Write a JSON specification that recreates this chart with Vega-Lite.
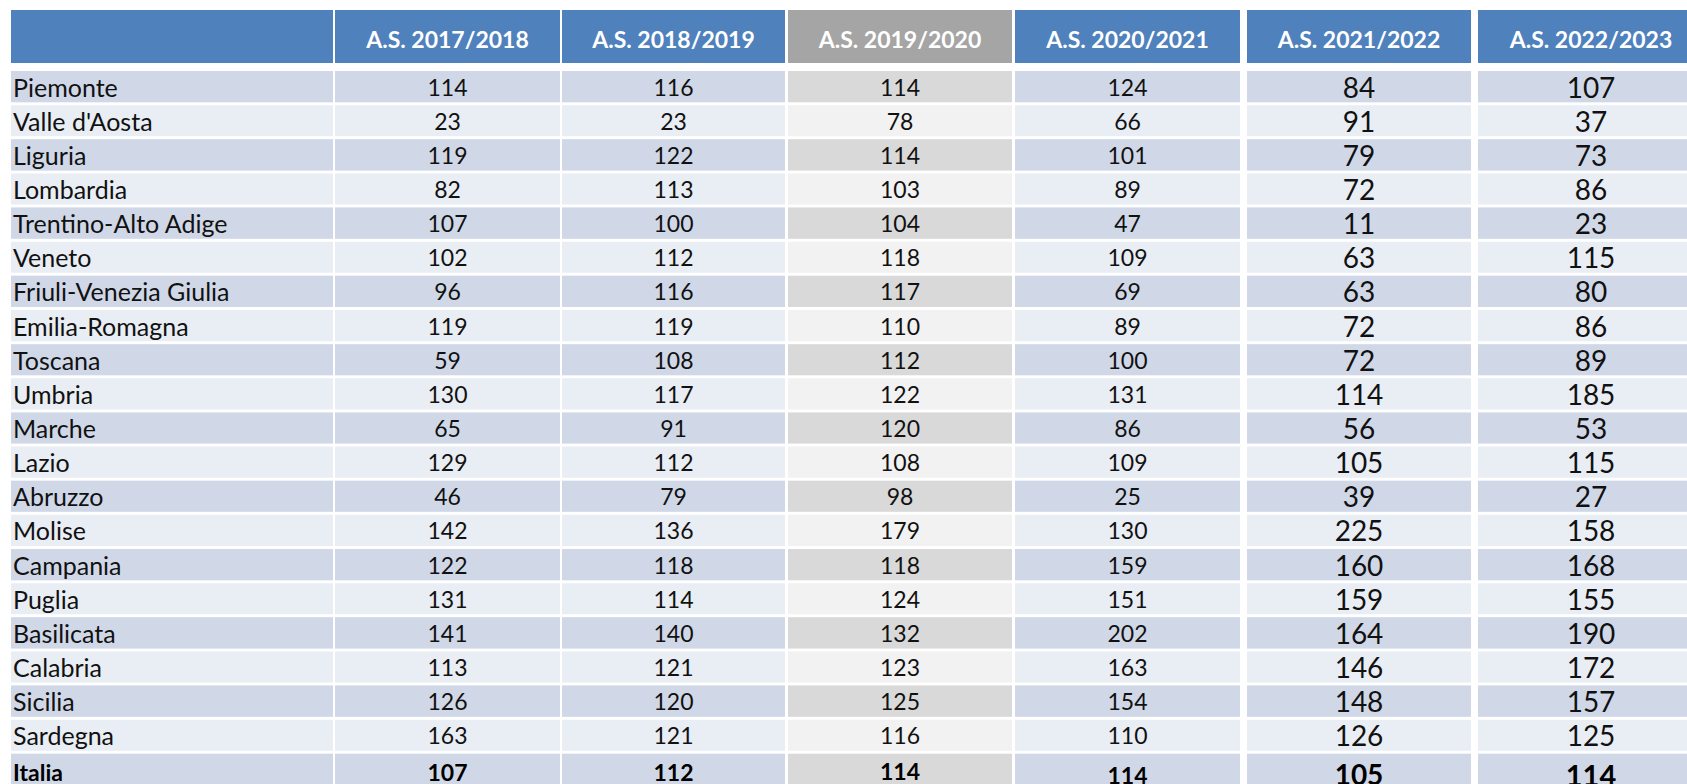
{
  "$schema": "https://vega.github.io/schema/vega-lite/v6.json",
  "padding": {"left": 11, "top": 10, "right": 0, "bottom": 0},
  "autosize": {"type": "pad"},
  "background": "white",
  "config": {"view": {"stroke": null}},
  "data": {"values": [
    {"regione": "Piemonte", "anno": "A.S. 2017/2018", "valore": 114},
    {"regione": "Valle d'Aosta", "anno": "A.S. 2017/2018", "valore": 23},
    {"regione": "Liguria", "anno": "A.S. 2017/2018", "valore": 119},
    {"regione": "Lombardia", "anno": "A.S. 2017/2018", "valore": 82},
    {"regione": "Trentino-Alto Adige", "anno": "A.S. 2017/2018", "valore": 107},
    {"regione": "Veneto", "anno": "A.S. 2017/2018", "valore": 102},
    {"regione": "Friuli-Venezia Giulia", "anno": "A.S. 2017/2018", "valore": 96},
    {"regione": "Emilia-Romagna", "anno": "A.S. 2017/2018", "valore": 119},
    {"regione": "Toscana", "anno": "A.S. 2017/2018", "valore": 59},
    {"regione": "Umbria", "anno": "A.S. 2017/2018", "valore": 130},
    {"regione": "Marche", "anno": "A.S. 2017/2018", "valore": 65},
    {"regione": "Lazio", "anno": "A.S. 2017/2018", "valore": 129},
    {"regione": "Abruzzo", "anno": "A.S. 2017/2018", "valore": 46},
    {"regione": "Molise", "anno": "A.S. 2017/2018", "valore": 142},
    {"regione": "Campania", "anno": "A.S. 2017/2018", "valore": 122},
    {"regione": "Puglia", "anno": "A.S. 2017/2018", "valore": 131},
    {"regione": "Basilicata", "anno": "A.S. 2017/2018", "valore": 141},
    {"regione": "Calabria", "anno": "A.S. 2017/2018", "valore": 113},
    {"regione": "Sicilia", "anno": "A.S. 2017/2018", "valore": 126},
    {"regione": "Sardegna", "anno": "A.S. 2017/2018", "valore": 163},
    {"regione": "Italia", "anno": "A.S. 2017/2018", "valore": 107},

    {"regione": "Piemonte", "anno": "A.S. 2018/2019", "valore": 116},
    {"regione": "Valle d'Aosta", "anno": "A.S. 2018/2019", "valore": 23},
    {"regione": "Liguria", "anno": "A.S. 2018/2019", "valore": 122},
    {"regione": "Lombardia", "anno": "A.S. 2018/2019", "valore": 113},
    {"regione": "Trentino-Alto Adige", "anno": "A.S. 2018/2019", "valore": 100},
    {"regione": "Veneto", "anno": "A.S. 2018/2019", "valore": 112},
    {"regione": "Friuli-Venezia Giulia", "anno": "A.S. 2018/2019", "valore": 116},
    {"regione": "Emilia-Romagna", "anno": "A.S. 2018/2019", "valore": 119},
    {"regione": "Toscana", "anno": "A.S. 2018/2019", "valore": 108},
    {"regione": "Umbria", "anno": "A.S. 2018/2019", "valore": 117},
    {"regione": "Marche", "anno": "A.S. 2018/2019", "valore": 91},
    {"regione": "Lazio", "anno": "A.S. 2018/2019", "valore": 112},
    {"regione": "Abruzzo", "anno": "A.S. 2018/2019", "valore": 79},
    {"regione": "Molise", "anno": "A.S. 2018/2019", "valore": 136},
    {"regione": "Campania", "anno": "A.S. 2018/2019", "valore": 118},
    {"regione": "Puglia", "anno": "A.S. 2018/2019", "valore": 114},
    {"regione": "Basilicata", "anno": "A.S. 2018/2019", "valore": 140},
    {"regione": "Calabria", "anno": "A.S. 2018/2019", "valore": 121},
    {"regione": "Sicilia", "anno": "A.S. 2018/2019", "valore": 120},
    {"regione": "Sardegna", "anno": "A.S. 2018/2019", "valore": 121},
    {"regione": "Italia", "anno": "A.S. 2018/2019", "valore": 112},

    {"regione": "Piemonte", "anno": "A.S. 2019/2020", "valore": 114},
    {"regione": "Valle d'Aosta", "anno": "A.S. 2019/2020", "valore": 78},
    {"regione": "Liguria", "anno": "A.S. 2019/2020", "valore": 114},
    {"regione": "Lombardia", "anno": "A.S. 2019/2020", "valore": 103},
    {"regione": "Trentino-Alto Adige", "anno": "A.S. 2019/2020", "valore": 104},
    {"regione": "Veneto", "anno": "A.S. 2019/2020", "valore": 118},
    {"regione": "Friuli-Venezia Giulia", "anno": "A.S. 2019/2020", "valore": 117},
    {"regione": "Emilia-Romagna", "anno": "A.S. 2019/2020", "valore": 110},
    {"regione": "Toscana", "anno": "A.S. 2019/2020", "valore": 112},
    {"regione": "Umbria", "anno": "A.S. 2019/2020", "valore": 122},
    {"regione": "Marche", "anno": "A.S. 2019/2020", "valore": 120},
    {"regione": "Lazio", "anno": "A.S. 2019/2020", "valore": 108},
    {"regione": "Abruzzo", "anno": "A.S. 2019/2020", "valore": 98},
    {"regione": "Molise", "anno": "A.S. 2019/2020", "valore": 179},
    {"regione": "Campania", "anno": "A.S. 2019/2020", "valore": 118},
    {"regione": "Puglia", "anno": "A.S. 2019/2020", "valore": 124},
    {"regione": "Basilicata", "anno": "A.S. 2019/2020", "valore": 132},
    {"regione": "Calabria", "anno": "A.S. 2019/2020", "valore": 123},
    {"regione": "Sicilia", "anno": "A.S. 2019/2020", "valore": 125},
    {"regione": "Sardegna", "anno": "A.S. 2019/2020", "valore": 116},
    {"regione": "Italia", "anno": "A.S. 2019/2020", "valore": 114},

    {"regione": "Piemonte", "anno": "A.S. 2020/2021", "valore": 124},
    {"regione": "Valle d'Aosta", "anno": "A.S. 2020/2021", "valore": 66},
    {"regione": "Liguria", "anno": "A.S. 2020/2021", "valore": 101},
    {"regione": "Lombardia", "anno": "A.S. 2020/2021", "valore": 89},
    {"regione": "Trentino-Alto Adige", "anno": "A.S. 2020/2021", "valore": 47},
    {"regione": "Veneto", "anno": "A.S. 2020/2021", "valore": 109},
    {"regione": "Friuli-Venezia Giulia", "anno": "A.S. 2020/2021", "valore": 69},
    {"regione": "Emilia-Romagna", "anno": "A.S. 2020/2021", "valore": 89},
    {"regione": "Toscana", "anno": "A.S. 2020/2021", "valore": 100},
    {"regione": "Umbria", "anno": "A.S. 2020/2021", "valore": 131},
    {"regione": "Marche", "anno": "A.S. 2020/2021", "valore": 86},
    {"regione": "Lazio", "anno": "A.S. 2020/2021", "valore": 109},
    {"regione": "Abruzzo", "anno": "A.S. 2020/2021", "valore": 25},
    {"regione": "Molise", "anno": "A.S. 2020/2021", "valore": 130},
    {"regione": "Campania", "anno": "A.S. 2020/2021", "valore": 159},
    {"regione": "Puglia", "anno": "A.S. 2020/2021", "valore": 151},
    {"regione": "Basilicata", "anno": "A.S. 2020/2021", "valore": 202},
    {"regione": "Calabria", "anno": "A.S. 2020/2021", "valore": 163},
    {"regione": "Sicilia", "anno": "A.S. 2020/2021", "valore": 154},
    {"regione": "Sardegna", "anno": "A.S. 2020/2021", "valore": 110},
    {"regione": "Italia", "anno": "A.S. 2020/2021", "valore": 114},

    {"regione": "Piemonte", "anno": "A.S. 2021/2022", "valore": 84},
    {"regione": "Valle d'Aosta", "anno": "A.S. 2021/2022", "valore": 91},
    {"regione": "Liguria", "anno": "A.S. 2021/2022", "valore": 79},
    {"regione": "Lombardia", "anno": "A.S. 2021/2022", "valore": 72},
    {"regione": "Trentino-Alto Adige", "anno": "A.S. 2021/2022", "valore": 11},
    {"regione": "Veneto", "anno": "A.S. 2021/2022", "valore": 63},
    {"regione": "Friuli-Venezia Giulia", "anno": "A.S. 2021/2022", "valore": 63},
    {"regione": "Emilia-Romagna", "anno": "A.S. 2021/2022", "valore": 72},
    {"regione": "Toscana", "anno": "A.S. 2021/2022", "valore": 72},
    {"regione": "Umbria", "anno": "A.S. 2021/2022", "valore": 114},
    {"regione": "Marche", "anno": "A.S. 2021/2022", "valore": 56},
    {"regione": "Lazio", "anno": "A.S. 2021/2022", "valore": 105},
    {"regione": "Abruzzo", "anno": "A.S. 2021/2022", "valore": 39},
    {"regione": "Molise", "anno": "A.S. 2021/2022", "valore": 225},
    {"regione": "Campania", "anno": "A.S. 2021/2022", "valore": 160},
    {"regione": "Puglia", "anno": "A.S. 2021/2022", "valore": 159},
    {"regione": "Basilicata", "anno": "A.S. 2021/2022", "valore": 164},
    {"regione": "Calabria", "anno": "A.S. 2021/2022", "valore": 146},
    {"regione": "Sicilia", "anno": "A.S. 2021/2022", "valore": 148},
    {"regione": "Sardegna", "anno": "A.S. 2021/2022", "valore": 126},
    {"regione": "Italia", "anno": "A.S. 2021/2022", "valore": 105},

    {"regione": "Piemonte", "anno": "A.S. 2022/2023", "valore": 107},
    {"regione": "Valle d'Aosta", "anno": "A.S. 2022/2023", "valore": 37},
    {"regione": "Liguria", "anno": "A.S. 2022/2023", "valore": 73},
    {"regione": "Lombardia", "anno": "A.S. 2022/2023", "valore": 86},
    {"regione": "Trentino-Alto Adige", "anno": "A.S. 2022/2023", "valore": 23},
    {"regione": "Veneto", "anno": "A.S. 2022/2023", "valore": 115},
    {"regione": "Friuli-Venezia Giulia", "anno": "A.S. 2022/2023", "valore": 80},
    {"regione": "Emilia-Romagna", "anno": "A.S. 2022/2023", "valore": 86},
    {"regione": "Toscana", "anno": "A.S. 2022/2023", "valore": 89},
    {"regione": "Umbria", "anno": "A.S. 2022/2023", "valore": 185},
    {"regione": "Marche", "anno": "A.S. 2022/2023", "valore": 53},
    {"regione": "Lazio", "anno": "A.S. 2022/2023", "valore": 115},
    {"regione": "Abruzzo", "anno": "A.S. 2022/2023", "valore": 27},
    {"regione": "Molise", "anno": "A.S. 2022/2023", "valore": 158},
    {"regione": "Campania", "anno": "A.S. 2022/2023", "valore": 168},
    {"regione": "Puglia", "anno": "A.S. 2022/2023", "valore": 155},
    {"regione": "Basilicata", "anno": "A.S. 2022/2023", "valore": 190},
    {"regione": "Calabria", "anno": "A.S. 2022/2023", "valore": 172},
    {"regione": "Sicilia", "anno": "A.S. 2022/2023", "valore": 157},
    {"regione": "Sardegna", "anno": "A.S. 2022/2023", "valore": 125},
    {"regione": "Italia", "anno": "A.S. 2022/2023", "valore": 114}
  ]},
  "spacing": 7,
  "hconcat": [
    {
      "spacing": 3,
      "hconcat": [
        {
          "spacing": 2,
          "hconcat": [
            {
              "spacing": 8,
              "vconcat": [
                {
                  "width": 322, "height": 53,
                  "transform": [{"filter": {"and": [{"field": "anno", "equal": "A.S. 2017/2018"}, {"field": "regione", "equal": "Italia"}]}}],
                  "mark": {"type": "rect", "fill": "#4F81BD"},
                  "encoding": {
                    "x": {"datum": 0, "type": "quantitative", "scale": {"domain": [0, 1], "nice": false}, "axis": null},
                    "x2": {"datum": 1},
                    "y": {"datum": 0, "type": "quantitative", "scale": {"domain": [0, 1], "nice": false}, "axis": null},
                    "y2": {"datum": 1}
                  }
                },
                {
                  "width": 322, "height": 714,
                  "transform": [{"filter": {"field": "anno", "equal": "A.S. 2017/2018"}}],
                  "encoding": {
                    "y": {"field": "regione", "type": "nominal", "axis": null, "scale": {"domain": ["Piemonte", "Valle d'Aosta", "Liguria", "Lombardia", "Trentino-Alto Adige", "Veneto", "Friuli-Venezia Giulia", "Emilia-Romagna", "Toscana", "Umbria", "Marche", "Lazio", "Abruzzo", "Molise", "Campania", "Puglia", "Basilicata", "Calabria", "Sicilia", "Sardegna", "Italia"], "paddingInner": 0.088, "paddingOuter": 0}}
                  },
                  "layer": [
                    {"mark": {"type": "rect", "fill": "#E9EDF4"}, "encoding": {"x": {"datum": 0, "type": "quantitative", "scale": {"domain": [0, 1], "nice": false}, "axis": null}, "x2": {"datum": 1}}},
                    {"transform": [{"filter": {"field": "regione", "oneOf": ["Piemonte", "Liguria", "Trentino-Alto Adige", "Friuli-Venezia Giulia", "Toscana", "Marche", "Abruzzo", "Campania", "Basilicata", "Sicilia", "Italia"]}}], "mark": {"type": "rect", "fill": "#D0D8E8"}, "encoding": {"x": {"datum": 0, "type": "quantitative"}, "x2": {"datum": 1}}},
                    {"transform": [{"filter": {"not": {"field": "regione", "equal": "Italia"}}}], "mark": {"type": "text", "font": "Lato", "fontSize": 25, "color": "#111111", "align": "left", "baseline": "middle", "dx": 2, "dy": 2}, "encoding": {"x": {"datum": 0, "type": "quantitative"}, "text": {"field": "regione"}}},
                    {"transform": [{"filter": {"field": "regione", "equal": "Italia"}}], "mark": {"type": "text", "font": "Lato", "fontSize": 23, "fontWeight": "bold", "color": "#000000", "align": "left", "baseline": "middle", "dx": 2, "dy": 5}, "encoding": {"x": {"datum": 0, "type": "quantitative"}, "text": {"field": "regione"}}}
                  ]
                }
              ]
            },
            {
              "spacing": 8,
              "vconcat": [
                {
                  "width": 225, "height": 53,
                  "transform": [{"filter": {"and": [{"field": "anno", "equal": "A.S. 2017/2018"}, {"field": "regione", "equal": "Italia"}]}}],
                  "layer": [
                    {"mark": {"type": "rect", "fill": "#4F81BD"}, "encoding": {"x": {"datum": 0, "type": "quantitative", "scale": {"domain": [0, 1], "nice": false}, "axis": null}, "x2": {"datum": 1}, "y": {"datum": 0, "type": "quantitative", "scale": {"domain": [0, 1], "nice": false}, "axis": null}, "y2": {"datum": 1}}},
                    {"mark": {"type": "text", "font": "Lato", "fontSize": 23, "fontWeight": "bold", "color": "white", "baseline": "middle", "dy": 4}, "encoding": {"x": {"datum": 0.5, "type": "quantitative"}, "y": {"datum": 0.5, "type": "quantitative"}, "text": {"field": "anno"}}}
                  ]
                },
                {
                  "width": 225, "height": 714,
                  "transform": [{"filter": {"field": "anno", "equal": "A.S. 2017/2018"}}],
                  "encoding": {
                    "y": {"field": "regione", "type": "nominal", "axis": null, "scale": {"domain": ["Piemonte", "Valle d'Aosta", "Liguria", "Lombardia", "Trentino-Alto Adige", "Veneto", "Friuli-Venezia Giulia", "Emilia-Romagna", "Toscana", "Umbria", "Marche", "Lazio", "Abruzzo", "Molise", "Campania", "Puglia", "Basilicata", "Calabria", "Sicilia", "Sardegna", "Italia"], "paddingInner": 0.088, "paddingOuter": 0}}
                  },
                  "layer": [
                    {"mark": {"type": "rect", "fill": "#E9EDF4"}, "encoding": {"x": {"datum": 0, "type": "quantitative", "scale": {"domain": [0, 1], "nice": false}, "axis": null}, "x2": {"datum": 1}}},
                    {"transform": [{"filter": {"field": "regione", "oneOf": ["Piemonte", "Liguria", "Trentino-Alto Adige", "Friuli-Venezia Giulia", "Toscana", "Marche", "Abruzzo", "Campania", "Basilicata", "Sicilia", "Italia"]}}], "mark": {"type": "rect", "fill": "#D0D8E8"}, "encoding": {"x": {"datum": 0, "type": "quantitative"}, "x2": {"datum": 1}}},
                    {"transform": [{"filter": {"not": {"field": "regione", "equal": "Italia"}}}], "mark": {"type": "text", "font": "Lato", "fontSize": 23, "color": "#111111", "baseline": "middle", "dy": 2}, "encoding": {"x": {"datum": 0.5, "type": "quantitative"}, "text": {"field": "valore"}}},
                    {"transform": [{"filter": {"field": "regione", "equal": "Italia"}}], "mark": {"type": "text", "font": "Lato", "fontSize": 23, "fontWeight": "bold", "color": "#000000", "baseline": "middle", "dy": 5}, "encoding": {"x": {"datum": 0.5, "type": "quantitative"}, "text": {"field": "valore"}}}
                  ]
                }
              ]
            },
            {
              "spacing": 8,
              "vconcat": [
                {
                  "width": 223, "height": 53,
                  "transform": [{"filter": {"and": [{"field": "anno", "equal": "A.S. 2018/2019"}, {"field": "regione", "equal": "Italia"}]}}],
                  "layer": [
                    {"mark": {"type": "rect", "fill": "#4F81BD"}, "encoding": {"x": {"datum": 0, "type": "quantitative", "scale": {"domain": [0, 1], "nice": false}, "axis": null}, "x2": {"datum": 1}, "y": {"datum": 0, "type": "quantitative", "scale": {"domain": [0, 1], "nice": false}, "axis": null}, "y2": {"datum": 1}}},
                    {"mark": {"type": "text", "font": "Lato", "fontSize": 23, "fontWeight": "bold", "color": "white", "baseline": "middle", "dy": 4}, "encoding": {"x": {"datum": 0.5, "type": "quantitative"}, "y": {"datum": 0.5, "type": "quantitative"}, "text": {"field": "anno"}}}
                  ]
                },
                {
                  "width": 223, "height": 714,
                  "transform": [{"filter": {"field": "anno", "equal": "A.S. 2018/2019"}}],
                  "encoding": {
                    "y": {"field": "regione", "type": "nominal", "axis": null, "scale": {"domain": ["Piemonte", "Valle d'Aosta", "Liguria", "Lombardia", "Trentino-Alto Adige", "Veneto", "Friuli-Venezia Giulia", "Emilia-Romagna", "Toscana", "Umbria", "Marche", "Lazio", "Abruzzo", "Molise", "Campania", "Puglia", "Basilicata", "Calabria", "Sicilia", "Sardegna", "Italia"], "paddingInner": 0.088, "paddingOuter": 0}}
                  },
                  "layer": [
                    {"mark": {"type": "rect", "fill": "#E9EDF4"}, "encoding": {"x": {"datum": 0, "type": "quantitative", "scale": {"domain": [0, 1], "nice": false}, "axis": null}, "x2": {"datum": 1}}},
                    {"transform": [{"filter": {"field": "regione", "oneOf": ["Piemonte", "Liguria", "Trentino-Alto Adige", "Friuli-Venezia Giulia", "Toscana", "Marche", "Abruzzo", "Campania", "Basilicata", "Sicilia", "Italia"]}}], "mark": {"type": "rect", "fill": "#D0D8E8"}, "encoding": {"x": {"datum": 0, "type": "quantitative"}, "x2": {"datum": 1}}},
                    {"transform": [{"filter": {"not": {"field": "regione", "equal": "Italia"}}}], "mark": {"type": "text", "font": "Lato", "fontSize": 23, "color": "#111111", "baseline": "middle", "dy": 2}, "encoding": {"x": {"datum": 0.5, "type": "quantitative"}, "text": {"field": "valore"}}},
                    {"transform": [{"filter": {"field": "regione", "equal": "Italia"}}], "mark": {"type": "text", "font": "Lato", "fontSize": 23, "fontWeight": "bold", "color": "#000000", "baseline": "middle", "dy": 5}, "encoding": {"x": {"datum": 0.5, "type": "quantitative"}, "text": {"field": "valore"}}}
                  ]
                }
              ]
            }
          ]
        },
        {
          "spacing": 8,
          "vconcat": [
            {
              "width": 224, "height": 53,
              "transform": [{"filter": {"and": [{"field": "anno", "equal": "A.S. 2019/2020"}, {"field": "regione", "equal": "Italia"}]}}],
              "layer": [
                {"mark": {"type": "rect", "fill": "#A5A5A5"}, "encoding": {"x": {"datum": 0, "type": "quantitative", "scale": {"domain": [0, 1], "nice": false}, "axis": null}, "x2": {"datum": 1}, "y": {"datum": 0, "type": "quantitative", "scale": {"domain": [0, 1], "nice": false}, "axis": null}, "y2": {"datum": 1}}},
                {"mark": {"type": "text", "font": "Lato", "fontSize": 23, "fontWeight": "bold", "color": "white", "baseline": "middle", "dy": 4}, "encoding": {"x": {"datum": 0.5, "type": "quantitative"}, "y": {"datum": 0.5, "type": "quantitative"}, "text": {"field": "anno"}}}
              ]
            },
            {
              "width": 224, "height": 714,
              "transform": [{"filter": {"field": "anno", "equal": "A.S. 2019/2020"}}],
              "encoding": {
                "y": {"field": "regione", "type": "nominal", "axis": null, "scale": {"domain": ["Piemonte", "Valle d'Aosta", "Liguria", "Lombardia", "Trentino-Alto Adige", "Veneto", "Friuli-Venezia Giulia", "Emilia-Romagna", "Toscana", "Umbria", "Marche", "Lazio", "Abruzzo", "Molise", "Campania", "Puglia", "Basilicata", "Calabria", "Sicilia", "Sardegna", "Italia"], "paddingInner": 0.088, "paddingOuter": 0}}
              },
              "layer": [
                {"mark": {"type": "rect", "fill": "#F2F2F2"}, "encoding": {"x": {"datum": 0, "type": "quantitative", "scale": {"domain": [0, 1], "nice": false}, "axis": null}, "x2": {"datum": 1}}},
                {"transform": [{"filter": {"field": "regione", "oneOf": ["Piemonte", "Liguria", "Trentino-Alto Adige", "Friuli-Venezia Giulia", "Toscana", "Marche", "Abruzzo", "Campania", "Basilicata", "Sicilia", "Italia"]}}], "mark": {"type": "rect", "fill": "#D9D9D9"}, "encoding": {"x": {"datum": 0, "type": "quantitative"}, "x2": {"datum": 1}}},
                {"transform": [{"filter": {"not": {"field": "regione", "equal": "Italia"}}}], "mark": {"type": "text", "font": "Lato", "fontSize": 23, "color": "#111111", "baseline": "middle", "dy": 2}, "encoding": {"x": {"datum": 0.5, "type": "quantitative"}, "text": {"field": "valore"}}},
                {"transform": [{"filter": {"field": "regione", "equal": "Italia"}}], "mark": {"type": "text", "font": "Lato", "fontSize": 23, "fontWeight": "bold", "color": "#000000", "baseline": "middle", "dy": 4}, "encoding": {"x": {"datum": 0.5, "type": "quantitative"}, "text": {"field": "valore"}}}
              ]
            }
          ]
        },
        {
          "spacing": 8,
          "vconcat": [
            {
              "width": 225, "height": 53,
              "transform": [{"filter": {"and": [{"field": "anno", "equal": "A.S. 2020/2021"}, {"field": "regione", "equal": "Italia"}]}}],
              "layer": [
                {"mark": {"type": "rect", "fill": "#4F81BD"}, "encoding": {"x": {"datum": 0, "type": "quantitative", "scale": {"domain": [0, 1], "nice": false}, "axis": null}, "x2": {"datum": 1}, "y": {"datum": 0, "type": "quantitative", "scale": {"domain": [0, 1], "nice": false}, "axis": null}, "y2": {"datum": 1}}},
                {"mark": {"type": "text", "font": "Lato", "fontSize": 23, "fontWeight": "bold", "color": "white", "baseline": "middle", "dy": 4}, "encoding": {"x": {"datum": 0.5, "type": "quantitative"}, "y": {"datum": 0.5, "type": "quantitative"}, "text": {"field": "anno"}}}
              ]
            },
            {
              "width": 225, "height": 714,
              "transform": [{"filter": {"field": "anno", "equal": "A.S. 2020/2021"}}],
              "encoding": {
                "y": {"field": "regione", "type": "nominal", "axis": null, "scale": {"domain": ["Piemonte", "Valle d'Aosta", "Liguria", "Lombardia", "Trentino-Alto Adige", "Veneto", "Friuli-Venezia Giulia", "Emilia-Romagna", "Toscana", "Umbria", "Marche", "Lazio", "Abruzzo", "Molise", "Campania", "Puglia", "Basilicata", "Calabria", "Sicilia", "Sardegna", "Italia"], "paddingInner": 0.088, "paddingOuter": 0}}
              },
              "layer": [
                {"mark": {"type": "rect", "fill": "#E9EDF4"}, "encoding": {"x": {"datum": 0, "type": "quantitative", "scale": {"domain": [0, 1], "nice": false}, "axis": null}, "x2": {"datum": 1}}},
                {"transform": [{"filter": {"field": "regione", "oneOf": ["Piemonte", "Liguria", "Trentino-Alto Adige", "Friuli-Venezia Giulia", "Toscana", "Marche", "Abruzzo", "Campania", "Basilicata", "Sicilia", "Italia"]}}], "mark": {"type": "rect", "fill": "#D0D8E8"}, "encoding": {"x": {"datum": 0, "type": "quantitative"}, "x2": {"datum": 1}}},
                {"transform": [{"filter": {"not": {"field": "regione", "equal": "Italia"}}}], "mark": {"type": "text", "font": "Lato", "fontSize": 23, "color": "#111111", "baseline": "middle", "dy": 2}, "encoding": {"x": {"datum": 0.5, "type": "quantitative"}, "text": {"field": "valore"}}},
                {"transform": [{"filter": {"field": "regione", "equal": "Italia"}}], "mark": {"type": "text", "font": "Lato", "fontSize": 23, "fontWeight": "bold", "color": "#000000", "baseline": "middle", "dy": 8}, "encoding": {"x": {"datum": 0.5, "type": "quantitative"}, "text": {"field": "valore"}}}
              ]
            }
          ]
        }
      ]
    },
    {
      "spacing": 8,
      "vconcat": [
        {
          "width": 224, "height": 53,
          "transform": [{"filter": {"and": [{"field": "anno", "equal": "A.S. 2021/2022"}, {"field": "regione", "equal": "Italia"}]}}],
          "layer": [
            {"mark": {"type": "rect", "fill": "#4F81BD"}, "encoding": {"x": {"datum": 0, "type": "quantitative", "scale": {"domain": [0, 1], "nice": false}, "axis": null}, "x2": {"datum": 1}, "y": {"datum": 0, "type": "quantitative", "scale": {"domain": [0, 1], "nice": false}, "axis": null}, "y2": {"datum": 1}}},
            {"mark": {"type": "text", "font": "Lato", "fontSize": 23, "fontWeight": "bold", "color": "white", "baseline": "middle", "dy": 4}, "encoding": {"x": {"datum": 0.5, "type": "quantitative"}, "y": {"datum": 0.5, "type": "quantitative"}, "text": {"field": "anno"}}}
          ]
        },
        {
          "width": 224, "height": 714,
          "transform": [{"filter": {"field": "anno", "equal": "A.S. 2021/2022"}}],
          "encoding": {
            "y": {"field": "regione", "type": "nominal", "axis": null, "scale": {"domain": ["Piemonte", "Valle d'Aosta", "Liguria", "Lombardia", "Trentino-Alto Adige", "Veneto", "Friuli-Venezia Giulia", "Emilia-Romagna", "Toscana", "Umbria", "Marche", "Lazio", "Abruzzo", "Molise", "Campania", "Puglia", "Basilicata", "Calabria", "Sicilia", "Sardegna", "Italia"], "paddingInner": 0.088, "paddingOuter": 0}}
          },
          "layer": [
            {"mark": {"type": "rect", "fill": "#E9EDF4"}, "encoding": {"x": {"datum": 0, "type": "quantitative", "scale": {"domain": [0, 1], "nice": false}, "axis": null}, "x2": {"datum": 1}}},
            {"transform": [{"filter": {"field": "regione", "oneOf": ["Piemonte", "Liguria", "Trentino-Alto Adige", "Friuli-Venezia Giulia", "Toscana", "Marche", "Abruzzo", "Campania", "Basilicata", "Sicilia", "Italia"]}}], "mark": {"type": "rect", "fill": "#D0D8E8"}, "encoding": {"x": {"datum": 0, "type": "quantitative"}, "x2": {"datum": 1}}},
            {"transform": [{"filter": {"not": {"field": "regione", "equal": "Italia"}}}], "mark": {"type": "text", "font": "Lato", "fontSize": 28, "color": "#111111", "baseline": "middle", "dy": 3}, "encoding": {"x": {"datum": 0.5, "type": "quantitative"}, "text": {"field": "valore"}}},
            {"transform": [{"filter": {"field": "regione", "equal": "Italia"}}], "mark": {"type": "text", "font": "Lato", "fontSize": 28, "fontWeight": "bold", "color": "#000000", "baseline": "middle", "dy": 8}, "encoding": {"x": {"datum": 0.5, "type": "quantitative"}, "text": {"field": "valore"}}}
          ]
        }
      ]
    },
    {
      "spacing": 8,
      "vconcat": [
        {
          "width": 226, "height": 53,
          "transform": [{"filter": {"and": [{"field": "anno", "equal": "A.S. 2022/2023"}, {"field": "regione", "equal": "Italia"}]}}],
          "layer": [
            {"mark": {"type": "rect", "fill": "#4F81BD"}, "encoding": {"x": {"datum": 0, "type": "quantitative", "scale": {"domain": [0, 1], "nice": false}, "axis": null}, "x2": {"datum": 1}, "y": {"datum": 0, "type": "quantitative", "scale": {"domain": [0, 1], "nice": false}, "axis": null}, "y2": {"datum": 1}}},
            {"mark": {"type": "text", "font": "Lato", "fontSize": 23, "fontWeight": "bold", "color": "white", "baseline": "middle", "dy": 4}, "encoding": {"x": {"datum": 0.5, "type": "quantitative"}, "y": {"datum": 0.5, "type": "quantitative"}, "text": {"field": "anno"}}}
          ]
        },
        {
          "width": 226, "height": 714,
          "transform": [{"filter": {"field": "anno", "equal": "A.S. 2022/2023"}}],
          "encoding": {
            "y": {"field": "regione", "type": "nominal", "axis": null, "scale": {"domain": ["Piemonte", "Valle d'Aosta", "Liguria", "Lombardia", "Trentino-Alto Adige", "Veneto", "Friuli-Venezia Giulia", "Emilia-Romagna", "Toscana", "Umbria", "Marche", "Lazio", "Abruzzo", "Molise", "Campania", "Puglia", "Basilicata", "Calabria", "Sicilia", "Sardegna", "Italia"], "paddingInner": 0.088, "paddingOuter": 0}}
          },
          "layer": [
            {"mark": {"type": "rect", "fill": "#E9EDF4"}, "encoding": {"x": {"datum": 0, "type": "quantitative", "scale": {"domain": [0, 1], "nice": false}, "axis": null}, "x2": {"datum": 1}}},
            {"transform": [{"filter": {"field": "regione", "oneOf": ["Piemonte", "Liguria", "Trentino-Alto Adige", "Friuli-Venezia Giulia", "Toscana", "Marche", "Abruzzo", "Campania", "Basilicata", "Sicilia", "Italia"]}}], "mark": {"type": "rect", "fill": "#D0D8E8"}, "encoding": {"x": {"datum": 0, "type": "quantitative"}, "x2": {"datum": 1}}},
            {"transform": [{"filter": {"not": {"field": "regione", "equal": "Italia"}}}], "mark": {"type": "text", "font": "Lato", "fontSize": 28, "color": "#111111", "baseline": "middle", "dy": 3}, "encoding": {"x": {"datum": 0.5, "type": "quantitative"}, "text": {"field": "valore"}}},
            {"transform": [{"filter": {"field": "regione", "equal": "Italia"}}], "mark": {"type": "text", "font": "Lato", "fontSize": 29, "fontWeight": "bold", "color": "#000000", "baseline": "middle", "dy": 8}, "encoding": {"x": {"datum": 0.5, "type": "quantitative"}, "text": {"field": "valore"}}}
          ]
        }
      ]
    }
  ]
}
